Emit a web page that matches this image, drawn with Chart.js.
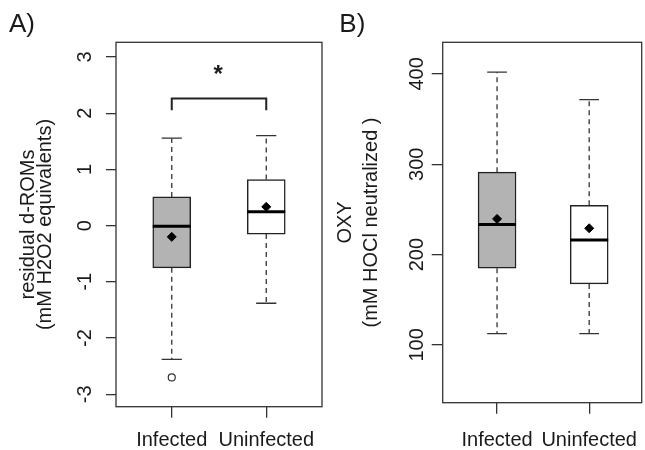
<!DOCTYPE html>
<html>
<head>
<meta charset="utf-8">
<script src="https://cdn.jsdelivr.net/npm/chart.js@4.4.1/dist/chart.umd.min.js"></script>
<style>
  html, body { margin: 0; padding: 0; background: #fff; width: 645px; height: 450px; overflow: hidden; }
  #chartA { position: absolute; left: 0; top: 0; }
  #chartB { position: absolute; left: 324px; top: 0; }
</style>
</head>
<body>
<canvas id="chartA" width="324" height="450"></canvas>
<canvas id="chartB" width="321" height="450"></canvas>
<script>
const groups = ['Infected', 'Uninfected'];
const groupPos = [1, 2];

// A) residual d-ROMs
const dromsLow = [-2.38, -1.38];
const dromsQ1 = [-0.75, -0.15];
const dromsMedian = [-0.01, 0.245];
const dromsQ3 = [0.51, 0.82];
const dromsHigh = [1.555, 1.60];
const dromsMean = [-0.2, 0.334];
const dromsOutliers = [{ x: 1, y: -2.70 }];
const dromsTicks = [-3, -2, -1, 0, 1, 2, 3];

// B) OXY
const oxyLow = [112.5, 112.5];
const oxyQ1 = [184.9, 167.5];
const oxyMedian = [233.2, 216.2];
const oxyQ3 = [291.2, 254.5];
const oxyHigh = [401.9, 371.6];
const oxyMean = [239.5, 229.1];
const oxyTicks = [100, 200, 300, 400];

const FONT = 'Liberation Sans, Arial, sans-serif';
const INK = '#1a1a1a';
const LINE = '#333333';

const boxExtras = {
  id: 'boxExtras',
  afterDatasetDraw(chart, args, opts) {
    if (args.index !== 0) return;
    const { ctx } = chart;
    const x = chart.scales.x, y = chart.scales.y;
    const bars = chart.getDatasetMeta(0).data;
    ctx.save();
    opts.pos.forEach((p, i) => {
      const cx = x.getPixelForValue(p);
      const capHalf = x.getPixelForValue(p + 0.107) - cx;
      const q1 = y.getPixelForValue(opts.q1[i]);
      const q3 = y.getPixelForValue(opts.q3[i]);
      const lo = y.getPixelForValue(opts.low[i]);
      const hi = y.getPixelForValue(opts.high[i]);
      ctx.strokeStyle = LINE;
      ctx.lineWidth = 1.3;
      ctx.setLineDash([5, 4]);
      ctx.beginPath();
      ctx.moveTo(cx, q3); ctx.lineTo(cx, hi);
      ctx.moveTo(cx, q1); ctx.lineTo(cx, lo);
      ctx.stroke();
      ctx.setLineDash([]);
      ctx.beginPath();
      ctx.moveTo(cx - capHalf, hi); ctx.lineTo(cx + capHalf, hi);
      ctx.moveTo(cx - capHalf, lo); ctx.lineTo(cx + capHalf, lo);
      ctx.stroke();
      // median
      const w = bars[i].width;
      const m = y.getPixelForValue(opts.med[i]);
      ctx.strokeStyle = '#000';
      ctx.lineWidth = 3;
      ctx.beginPath();
      ctx.moveTo(cx - w / 2, m); ctx.lineTo(cx + w / 2, m);
      ctx.stroke();
    });
    ctx.restore();
  },
  afterDraw(chart, args, opts) {
    const { ctx, chartArea: a } = chart;
    const x = chart.scales.x, y = chart.scales.y;
    ctx.save();
    ctx.strokeStyle = LINE;
    ctx.lineWidth = 1.3;
    ctx.strokeRect(a.left, a.top, a.right - a.left, a.bottom - a.top);
    if (opts.bracket) {
      const b = opts.bracket;
      ctx.lineWidth = 2;
      ctx.strokeStyle = '#222';
      ctx.beginPath();
      ctx.moveTo(x.getPixelForValue(b.from), y.getPixelForValue(b.leg));
      ctx.lineTo(x.getPixelForValue(b.from), y.getPixelForValue(b.top));
      ctx.lineTo(x.getPixelForValue(b.to), y.getPixelForValue(b.top));
      ctx.lineTo(x.getPixelForValue(b.to), y.getPixelForValue(b.leg));
      ctx.stroke();
      ctx.fillStyle = INK;
      ctx.font = 'bold 24px ' + FONT;
      ctx.textAlign = 'center';
      ctx.textBaseline = 'alphabetic';
      ctx.fillText('*', x.getPixelForValue(b.starX), y.getPixelForValue(b.starY));
    }
    ctx.fillStyle = INK;
    ctx.font = '26px ' + FONT;
    ctx.textAlign = 'left';
    ctx.textBaseline = 'alphabetic';
    ctx.fillText(opts.letter, opts.letterX, 32);
    ctx.restore();
  }
};

function noPad(s) {
  s.paddingLeft = 0; s.paddingRight = 0; s.paddingTop = 0; s.paddingBottom = 0;
}

function makeBoxChart(id, p) {
  new Chart(document.getElementById(id), {
    type: 'bar',
    data: {
      datasets: [{
        type: 'bar',
        order: 3,
        data: groupPos.map((g, i) => ({ x: g, y: [p.q1[i], p.q3[i]] })),
        backgroundColor: ['#b3b3b3', '#ffffff'],
        borderColor: '#222',
        borderWidth: 1.5,
        borderSkipped: false,
        barThickness: 38
      }, {
        type: 'scatter',
        order: 2,
        data: p.outliers || [],
        pointStyle: 'circle',
        pointRadius: 3.5,
        backgroundColor: '#fff',
        borderColor: LINE,
        borderWidth: 1.2
      }, {
        type: 'scatter',
        order: 1,
        data: groupPos.map((g, i) => ({ x: g, y: p.mean[i] })),
        pointStyle: 'rectRot',
        pointRadius: 4.5,
        backgroundColor: '#000',
        borderColor: '#000',
        borderWidth: 1
      }]
    },
    options: {
      responsive: false,
      animation: false,
      layout: { autoPadding: false, padding: { left: 0, top: 42.3, right: p.rightPad, bottom: 0 } },
      plugins: {
        legend: { display: false },
        tooltip: { enabled: false },
        boxExtras: {
          pos: groupPos, q1: p.q1, q3: p.q3, med: p.median, low: p.low, high: p.high,
          bracket: p.bracket, letter: p.letter, letterX: p.letterX
        }
      },
      scales: {
        x: {
          type: 'linear',
          offset: false,
          min: 0.41,
          max: p.xMax,
          afterBuildTicks: s => { s.ticks = groupPos.map(v => ({ value: v })); },
          afterFit: s => { s.height = p.xHeight; noPad(s); },
          border: { display: false },
          grid: { offset: false, drawOnChartArea: false, drawTicks: true, tickLength: 11, color: LINE, lineWidth: 1.3 },
          ticks: {
            autoSkip: false, maxRotation: 0, padding: p.xPad, color: INK,
            font: { family: FONT, size: 20 },
            callback: v => groups[groupPos.indexOf(v)]
          }
        },
        y: {
          type: 'linear',
          min: p.yMin,
          max: p.yMax,
          afterBuildTicks: s => { s.ticks = p.ticks.map(v => ({ value: v })); },
          afterFit: s => { s.width = p.yWidth; noPad(s); },
          border: { display: false },
          grid: { drawOnChartArea: false, drawTicks: true, tickLength: p.yTick, color: LINE, lineWidth: 1.3 },
          ticks: {
            minRotation: 90, maxRotation: 90, crossAlign: 'center', padding: p.yPad, color: INK,
            font: { family: FONT, size: 20 },
            callback: v => String(v)
          },
          title: {
            display: true,
            text: p.title,
            color: INK,
            font: { family: FONT, size: 20, lineHeight: p.titleLine / 20 },
            padding: { top: p.titlePad, bottom: 0 }
          }
        }
      }
    },
    plugins: [boxExtras]
  });
}

makeBoxChart('chartA', {
  q1: dromsQ1, q3: dromsQ3, median: dromsMedian, low: dromsLow, high: dromsHigh,
  mean: dromsMean, outliers: dromsOutliers, ticks: dromsTicks,
  yMin: -3.22, yMax: 3.26, xMax: 2.59,
  title: ['residual d-ROMs', '(mM H2O2 equivalents)'], titleLine: 17, titlePad: 19.5,
  yWidth: 116, yTick: 10, yPad: 12, xHeight: 43.3, xPad: 11, rightPad: 2,
  letter: 'A)', letterX: 9,
  bracket: { from: 1, to: 2, top: 2.26, leg: 2.05, starX: 1.49, starY: 2.55 }
});

makeBoxChart('chartB', {
  q1: oxyQ1, q3: oxyQ3, median: oxyMedian, low: oxyLow, high: oxyHigh,
  mean: oxyMean, outliers: [], ticks: oxyTicks,
  yMin: 36, yMax: 435, xMax: 2.57,
  title: ['OXY', '(mM HOCl neutralized )'], titleLine: 26, titlePad: 8,
  yWidth: 118.7, yTick: 11, yPad: -2, xHeight: 47.3, xPad: 15, rightPad: 3.3,
  letter: 'B)', letterX: 15.3
});
</script>
</body>
</html>
